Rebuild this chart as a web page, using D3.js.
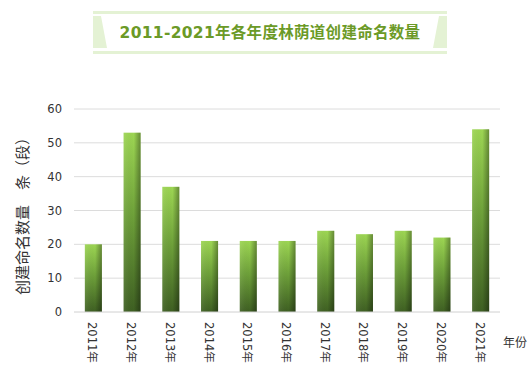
<!DOCTYPE html>
<html>
<head>
<meta charset="utf-8">
<script src="https://cdn.jsdelivr.net/npm/d3@7"></script>
<style>
  body { margin: 0; background: #fff; }
  svg { display: block; font-family: "Microsoft YaHei", "Noto Sans CJK SC", sans-serif; }
</style>
</head>
<body>
<svg id="chart" width="529" height="373"></svg>
<script>
const years = ["2011年", "2012年", "2013年", "2014年", "2015年", "2016年", "2017年", "2018年", "2019年", "2020年", "2021年"];
const counts = [20, 53, 37, 21, 21, 21, 24, 23, 24, 22, 54];
const yTicks = [0, 10, 20, 30, 40, 50, 60];

const svg = d3.select("#chart");
const margin = { left: 74, right: 29, top: 109, bottom: 61 };
const width = 529, height = 373;

const x = d3.scaleBand().domain(years)
    .range([margin.left, width - margin.right])
    .paddingInner(0.56).paddingOuter(0.28);
const y = d3.scaleLinear().domain([0, 60]).range([height - margin.bottom, margin.top]);

// gradients
const defs = svg.append("defs");
const gv = defs.append("linearGradient").attr("id", "barV").attr("x1", 0).attr("y1", 0).attr("x2", 0).attr("y2", 1);
gv.append("stop").attr("offset", "0%").attr("stop-color", "#9dd653");
gv.append("stop").attr("offset", "45%").attr("stop-color", "#6fa23a");
gv.append("stop").attr("offset", "100%").attr("stop-color", "#3e5f22");
const gh = defs.append("linearGradient").attr("id", "barH").attr("x1", 0).attr("y1", 0).attr("x2", 1).attr("y2", 0);
gh.append("stop").attr("offset", "0%").attr("stop-color", "#fff").attr("stop-opacity", 0.08);
gh.append("stop").attr("offset", "60%").attr("stop-color", "#000").attr("stop-opacity", 0);
gh.append("stop").attr("offset", "100%").attr("stop-color", "#000").attr("stop-opacity", 0.35);

// title banner
const tb = svg.append("g");
tb.append("rect").attr("x", 93).attr("y", 11).attr("width", 354).attr("height", 3).attr("fill", "#e4f2d4");
tb.append("rect").attr("x", 93).attr("y", 51).attr("width", 354).attr("height", 3).attr("fill", "#e4f2d4");
tb.append("path").attr("d", "M93,16 L101,16 L107,48 L93,48 Z").attr("fill", "#e4f2d4");
tb.append("path").attr("d", "M447,16 L439,16 L433,48 L447,48 Z").attr("fill", "#e4f2d4");
tb.append("text").attr("x", 270).attr("y", 38).attr("text-anchor", "middle")
    .attr("font-size", 15.5).attr("letter-spacing", 0.3).attr("font-weight", "bold").attr("fill", "#6b9a27")
    .attr("font-family", "Verdana, 'DejaVu Sans', 'Noto Sans CJK SC', sans-serif")
    .text("2011-2021年各年度林荫道创建命名数量");

// grid
svg.append("g").selectAll("line").data(yTicks.slice(1)).join("line")
    .attr("x1", margin.left).attr("x2", width - margin.right)
    .attr("y1", d => y(d)).attr("y2", d => y(d))
    .attr("stroke", "#dcdcdc");

// y axis labels
svg.append("g").selectAll("text").data(yTicks).join("text")
    .attr("x", 62).attr("y", d => y(d) + 4)
    .attr("text-anchor", "end").attr("font-size", 11.5).attr("fill", "#333")
    .attr("font-family", "Verdana, 'DejaVu Sans', sans-serif")
    .text(d => d);

// bars
const bars = svg.append("g");
years.forEach((yr, i) => {
    bars.append("rect").attr("x", x(yr)).attr("y", y(counts[i]))
        .attr("width", x.bandwidth()).attr("height", y(0) - y(counts[i]))
        .attr("fill", "url(#barV)");
    bars.append("rect").attr("x", x(yr)).attr("y", y(counts[i]))
        .attr("width", x.bandwidth()).attr("height", y(0) - y(counts[i]))
        .attr("fill", "url(#barH)");
});

// baseline
svg.append("line").attr("x1", margin.left).attr("x2", width - margin.right)
    .attr("y1", y(0)).attr("y2", y(0)).attr("stroke", "#d0d0d0");

// x labels rotated
svg.append("g").selectAll("text").data(years).join("text")
    .attr("transform", d => `translate(${x(d) + x.bandwidth() / 2 - 5},${y(0) + 10}) rotate(90)`)
    .attr("font-size", 11.5).attr("fill", "#333")
    .attr("font-family", "Verdana, 'DejaVu Sans', 'Noto Sans CJK SC', sans-serif")
    .text(d => d);

svg.append("text").attr("x", 503).attr("y", 347).attr("font-size", 12).attr("fill", "#333").text("年份");

// y title
svg.append("text").attr("transform", `translate(28,${(y(0) + y(60)) / 2 + 2}) rotate(-90)`)
    .attr("text-anchor", "middle").attr("font-size", 15).attr("fill", "#333")
    .text("创建命名数量　条（段）");
</script>
</body>
</html>
